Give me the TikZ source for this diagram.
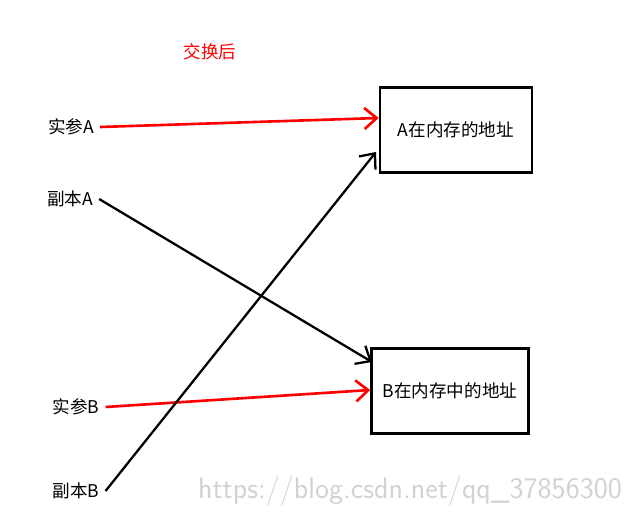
\documentclass[tikz,border=0pt]{standalone}
\usepackage{fontspec}
\setmainfont{Noto Sans CJK SC}
\usetikzlibrary{arrows.meta}
\tikzset{
	addrbox/.style={draw, line width=1.5pt, minimum width=3.04cm, minimum height=1.7cm},
	lbl/.style={font=\normalsize},
	redarrow/.style={draw=red, line width=1.5pt, -{Straight Barb[length=7pt,width=12pt]}},
	blackarrow/.style={line width=1.3pt, -{Straight Barb[length=7pt,width=12pt]}}
}
\begin{document}
\begin{tikzpicture}[x=0.02cm, y=-0.02cm]
\useasboundingbox (0,0) rectangle (625,516);

\node[lbl, text=red] (title) at (210,52) {交换后};

\node[addrbox] (boxA) at (456,130) {A在内存的地址};
\node[addrbox, minimum width=3.14cm] (boxB) at (450,391) {B在内存中的地址};

\node[lbl] (realA) at (71,127) {实参A};
\node[lbl] (copyA) at (70,199) {副本A};
\node[lbl] (realB) at (76,407) {实参B};
\node[lbl] (copyB) at (76,491) {副本B};

\draw[redarrow] (realA.east) -- (boxA.west |- 0,118);
\draw[redarrow] (realB.east) -- (boxB.west |- 0,390);
\draw[blackarrow] (copyA.east) -- (372,362);
\draw[blackarrow] (copyB.east) -- (376,152);

\node[text=gray!35, font=\fontsize{17}{20}\selectfont\sffamily] (mark) at (410,491) {https://blog.csdn.net/qq\_37856300};
\end{tikzpicture}
\end{document}
